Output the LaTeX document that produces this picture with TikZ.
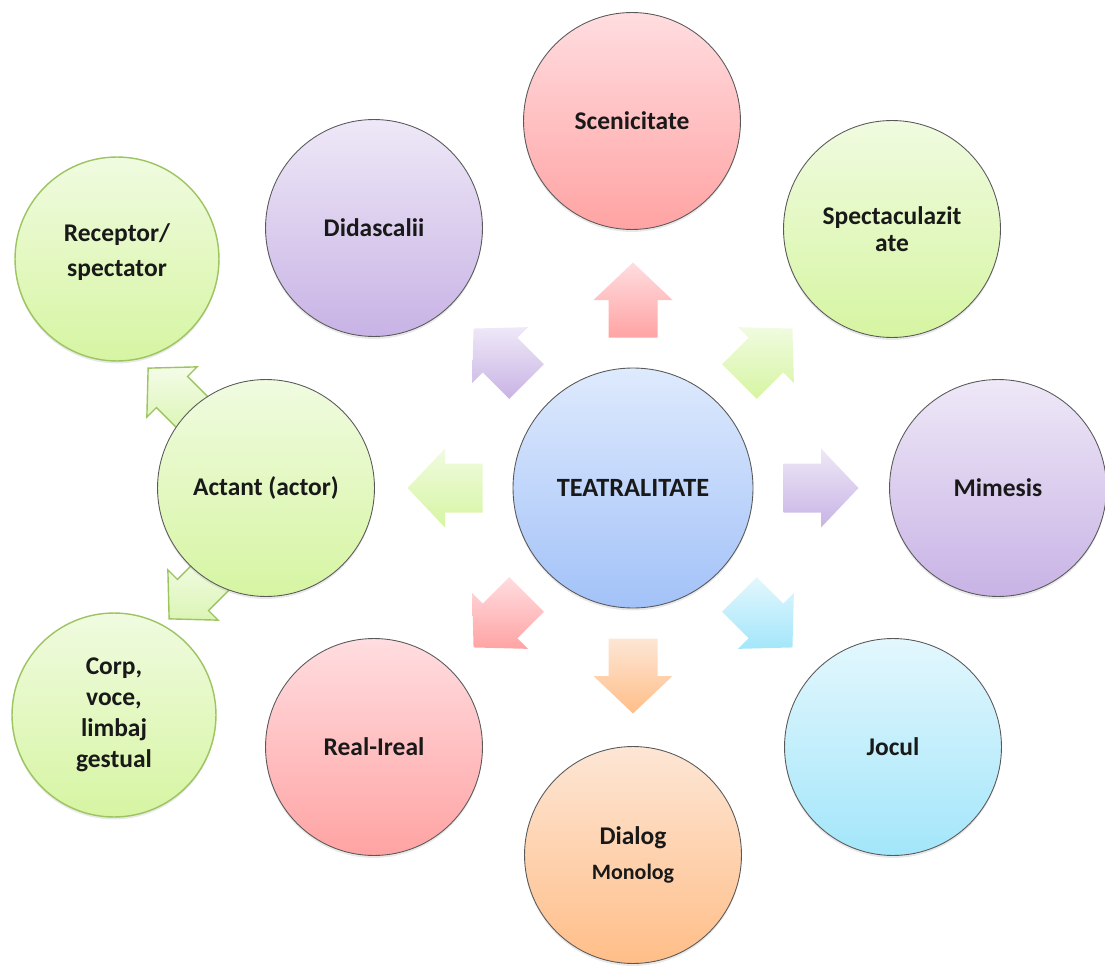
\documentclass[tikz,border=0pt]{standalone}
\usepackage{fontspec}
\setmainfont{Carlito}
\usetikzlibrary{calc,shadows}
\definecolor{redT}{HTML}{FFDDE0}
\definecolor{redB}{HTML}{FFA3A3}
\definecolor{greenT}{HTML}{F0FBE0}
\definecolor{greenB}{HTML}{D6F5A2}
\definecolor{purpT}{HTML}{EEE8F7}
\definecolor{purpB}{HTML}{C8B3E5}
\definecolor{blueT}{HTML}{DEEAFD}
\definecolor{blueB}{HTML}{A3C2F8}
\definecolor{cyanT}{HTML}{E3F7FD}
\definecolor{cyanB}{HTML}{A3E6FA}
\definecolor{orT}{HTML}{FDE6D5}
\definecolor{orB}{HTML}{FFBE88}
\definecolor{gline}{HTML}{9CC460}
\definecolor{lgT}{HTML}{F4FCE8}
\definecolor{lgB}{HTML}{DBF5B4}
\begin{document}
\begin{tikzpicture}[x=0.02cm,y=0.02cm,
  circ/.style={circle, draw=black!65, line width=0.5pt, minimum size=4.34cm,
    inner sep=2pt, align=center, text=black!90,
    font=\fontsize{14.5}{17.6}\selectfont\bfseries,
    drop shadow={shadow xshift=0pt,shadow yshift=-1.4pt,opacity=0.18}},
  smallcirc/.style={minimum size=4.08cm, draw=gline, line width=0.8pt},
  bigcirc/.style={minimum size=4.8cm, font=\fontsize{15}{18}\selectfont\bfseries},
  fred/.style={top color=redT, bottom color=redB},
  fgreen/.style={top color=greenT, bottom color=greenB},
  fpurp/.style={top color=purpT, bottom color=purpB},
  fblue/.style={top color=blueT, bottom color=blueB},
  fcyan/.style={top color=cyanT, bottom color=cyanB},
  forange/.style={top color=orT, bottom color=orB},
  flgreen/.style={top color=lgT, bottom color=lgB, draw=gline, line width=0.8pt},
  blockarrow/.pic={\path[pic actions] (-37.5,-24.5) -- (0,-24.5) -- (0,-39.5) -- (37.5,0)
     -- (0,39.5) -- (0,24.5) -- (-37.5,24.5) -- cycle;}
]
\useasboundingbox (0,0) rectangle (1105,965);

% positions
\coordinate (pT) at (633,477);
\coordinate (pRA) at (172,573);
\coordinate (pCA) at (193,370);

% arrows from Actant (behind circles)
\pic[flgreen, rotate=135, scale=0.9] at (pRA) {blockarrow};
\pic[flgreen, rotate=225, scale=0.9] at (pCA) {blockarrow};

% circles
\node[circ, bigcirc, fblue] (T) at (pT) {TEATRALITATE};
\node[circ, fred] (scen) at (632,844) {Scenicitate};
\node[circ, fgreen] (spec) at (892,736) {Spectaculazit\\[-2.2pt]ate};
\node[circ, fpurp] (mim) at (998,477) {Mimesis};
\node[circ, fcyan] (joc) at (893,218) {Jocul};
\node[circ, forange] (dial) at (633,110) {Dialog\\[2pt]{\fontsize{12.5}{15}\selectfont Monolog}};
\node[circ, fred] (real) at (374,218) {Real-Ireal};
\node[circ, fpurp] (did) at (374,737) {Didascalii};
\node[circ, fgreen] (act) at (266,477) {Actant (actor)};
\node[circ, smallcirc, fgreen] (rec) at (117,706) {Receptor/\\[2.4pt]spectator\\[-7.6pt]\mbox{}};
\node[circ, smallcirc, fgreen] (corp) at (114,250) {Corp,\\voce,\\limbaj\\gestual};

% arrows from TEATRALITATE
\pic[fred, rotate=90] at ($(T)+(90:188)$) {blockarrow};
\pic[fgreen, rotate=45] at ($(T)+(45:188)$) {blockarrow};
\pic[fpurp, rotate=0] at ($(T)+(0:188)$) {blockarrow};
\pic[fcyan, rotate=-45] at ($(T)+(-45:188)$) {blockarrow};
\pic[forange, rotate=-90] at ($(T)+(-90:188)$) {blockarrow};
\pic[fred, rotate=-135] at ($(T)+(-135:188)$) {blockarrow};
\pic[fgreen, rotate=180] at ($(T)+(180:188)$) {blockarrow};
\pic[fpurp, rotate=135] at ($(T)+(135:188)$) {blockarrow};
\end{tikzpicture}
\end{document}
